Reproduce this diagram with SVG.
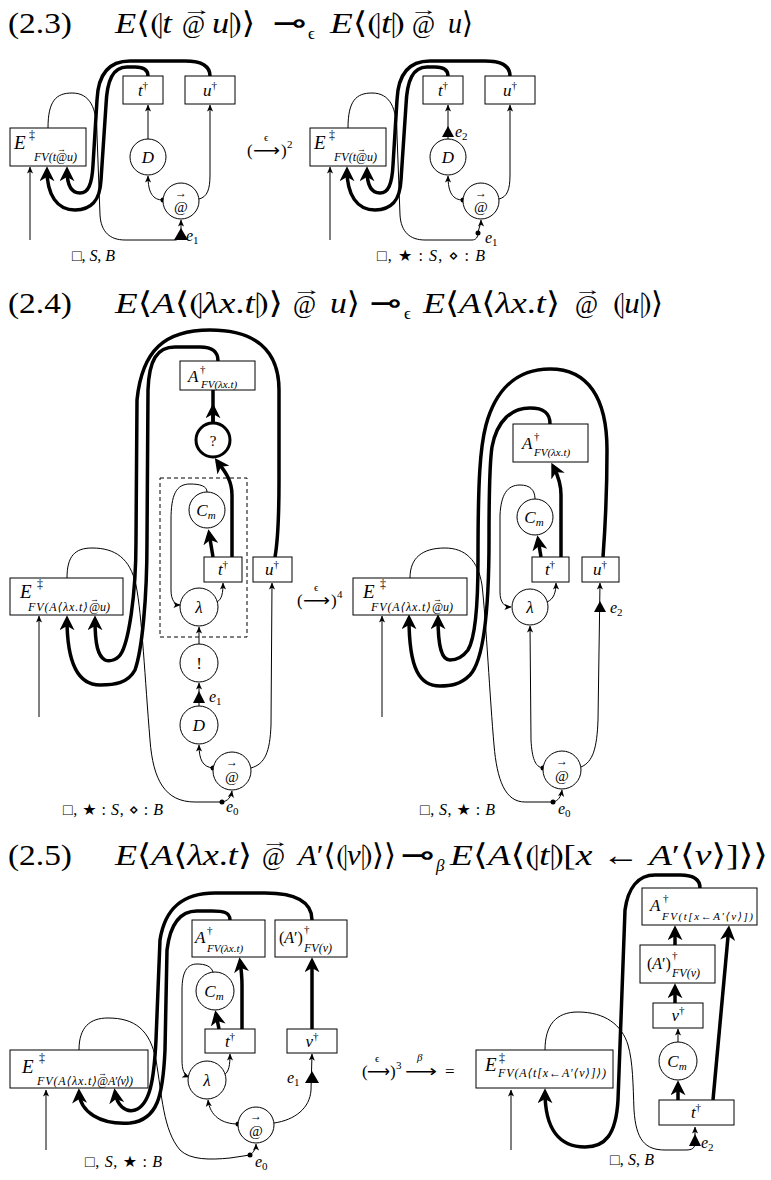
<svg xmlns="http://www.w3.org/2000/svg" width="771" height="1180" viewBox="0 0 771 1180">
<style>
text{font-family:"Liberation Serif","DejaVu Serif","DejaVu Sans",serif;fill:#000}
.i{font-style:italic}
.n{font-style:normal}
.bx{fill:#fff;stroke:#000;stroke-width:1}
.cr{fill:#fff;stroke:#000;stroke-width:1}
.cq{fill:#fff;stroke:#000;stroke-width:3}
.dash{fill:none;stroke:#000;stroke-width:1;stroke-dasharray:4 3}
.tn{fill:none;stroke:#000;stroke-width:1}
.tk{fill:none;stroke:#000;stroke-width:3.5}
.ah{marker-end:url(#ah)}
.AH{marker-end:url(#AH)}
.nl{font-size:17px;font-style:italic;text-anchor:middle}
.sp{font-size:11px;font-style:normal}
.sb{font-size:11px;font-style:italic}
.lab{font-size:16px}
.tt{font-size:30px}
.tr{font-size:17px}
.ar{text-anchor:middle}
.dj{font-family:"DejaVu Sans",sans-serif}
</style>
<defs>
<marker id="ah" viewBox="0 0 8 8" refX="7.5" refY="4" markerWidth="7" markerHeight="7" orient="auto" markerUnits="userSpaceOnUse"><path d="M0,0.5 L8,4 L0,7.5 L2,4 z"/></marker>
<marker id="AH" viewBox="0 0 16 16" refX="12" refY="8" markerWidth="15" markerHeight="15" orient="auto" markerUnits="userSpaceOnUse"><path d="M0,0 L16,8 L0,16 L4.5,8 z"/></marker>
</defs>

<!-- ===== Titles ===== -->
<g id="title-2-3" class="tt">
<text x="8" y="33" textLength="64" lengthAdjust="spacingAndGlyphs">(2.3)</text>
<text x="115" y="33" textLength="57" lengthAdjust="spacingAndGlyphs"><tspan class="i">E</tspan>⟨⦇<tspan class="i">t</tspan></text>
<text x="182" y="33" font-size="25">@<tspan x="182" y="15" font-size="16" textLength="30" lengthAdjust="spacingAndGlyphs">→</tspan></text>
<text x="212" y="33" textLength="43" lengthAdjust="spacingAndGlyphs"><tspan class="i">u</tspan>⦈⟩</text>
<text x="273" y="33" class="dj" textLength="34" lengthAdjust="spacingAndGlyphs">⊸</text>
<text x="308" y="39" font-size="17">ϵ</text>
<text x="330" y="33" textLength="75" lengthAdjust="spacingAndGlyphs"><tspan class="i">E</tspan>⟨⦇<tspan class="i">t</tspan>⦈</text>
<text x="412" y="33" font-size="25">@<tspan x="410" y="15" font-size="16" textLength="28" lengthAdjust="spacingAndGlyphs">→</tspan></text>
<text x="448" y="33" textLength="25" lengthAdjust="spacingAndGlyphs"><tspan class="i">u</tspan>⟩</text>
</g>
<g id="title-2-4" class="tt">
<text x="8" y="313" textLength="64" lengthAdjust="spacingAndGlyphs">(2.4)</text>
<text x="115" y="313" textLength="168" lengthAdjust="spacingAndGlyphs"><tspan class="i">E</tspan>⟨<tspan class="i">A</tspan>⟨⦇<tspan class="i">λx</tspan>.<tspan class="i">t</tspan>⦈⟩</text>
<text x="293" y="313" font-size="25">@<tspan x="292" y="295" font-size="16" textLength="30" lengthAdjust="spacingAndGlyphs">→</tspan></text>
<text x="330" y="313" textLength="30" lengthAdjust="spacingAndGlyphs"><tspan class="i">u</tspan>⟩</text>
<text x="370" y="313" class="dj" textLength="32" lengthAdjust="spacingAndGlyphs">⊸</text>
<text x="404" y="319" font-size="17">ϵ</text>
<text x="423" y="313" textLength="137" lengthAdjust="spacingAndGlyphs"><tspan class="i">E</tspan>⟨<tspan class="i">A</tspan>⟨<tspan class="i">λx</tspan>.<tspan class="i">t</tspan>⟩</text>
<text x="575" y="313" font-size="25">@<tspan x="574" y="295" font-size="16" textLength="28" lengthAdjust="spacingAndGlyphs">→</tspan></text>
<text x="613" y="313" textLength="50" lengthAdjust="spacingAndGlyphs">⦇<tspan class="i">u</tspan>⦈⟩</text>
</g>
<g id="title-2-5" class="tt">
<text x="8" y="865" textLength="64" lengthAdjust="spacingAndGlyphs">(2.5)</text>
<text x="115" y="865" textLength="137" lengthAdjust="spacingAndGlyphs"><tspan class="i">E</tspan>⟨<tspan class="i">A</tspan>⟨<tspan class="i">λx</tspan>.<tspan class="i">t</tspan>⟩</text>
<text x="262" y="865" font-size="25">@<tspan x="261" y="847" font-size="16" textLength="29" lengthAdjust="spacingAndGlyphs">→</tspan></text>
<text x="298" y="865" textLength="98" lengthAdjust="spacingAndGlyphs"><tspan class="i">A</tspan>′⟨⦇<tspan class="i">v</tspan>⦈⟩⟩</text>
<text x="401" y="865" class="dj" textLength="34" lengthAdjust="spacingAndGlyphs">⊸</text>
<text x="436" y="871" font-size="17" class="i">β</text>
<text x="450" y="865" textLength="318" lengthAdjust="spacingAndGlyphs"><tspan class="i">E</tspan>⟨<tspan class="i">A</tspan>⟨⦇<tspan class="i">t</tspan>⦈[<tspan class="i">x</tspan> ← <tspan class="i">A</tspan>′⟨<tspan class="i">v</tspan>⟩]⟩⟩</text>
</g>

<!-- ===== 2.3 left ===== -->
<g id="d23L-edges">
<path class="tn ah" d="M30,240 L30,167"/>
<path class="tn ah" d="M148,139 L148,105"/>
<path class="tn ah" d="M163,200 C153,200 148,193 148,176"/>
<path class="tn ah" d="M199,199 C207,197 210,190 210,175 L210,105"/>
<path class="tn ah" d="M48,128 C48,101 56,93 72,93 C90,93 97,108 97,135 L100,215 C101,232 110,240 125,240 L175,240 C179,240 181,236 181,228 L181,220"/>
<path class="tk AH" d="M210,76 C210,65 200,61 185,61 L130,61 C108,61 98,75 97,100 L93,165 C92,185 88,193 80,193 C71,193 67,185 67,170"/>
<path class="tk AH" d="M148,76 C148,69 143,67 135,67 L127,67 C113,67 107,80 106,105 L101,180 C100,200 92,210 75,210 C57,210 47,195 47,170"/>
<polygon points="174,240 181,228 188,240"/>
<circle cx="163" cy="200" r="2.5"/>
</g>
<g id="d23L-E"><rect class="bx" x="10" y="128" width="76" height="38"/>
<text x="14" y="149" class="i" font-size="19">E<tspan class="n" x="29" y="139" font-size="12">‡</tspan><tspan x="34" y="161" font-size="12">FV(t@u)</tspan><tspan class="n" x="57" y="152" font-size="9">→</tspan></text></g>
<g id="d23L-t"><rect class="bx" x="123" y="76" width="40" height="28"/><text x="143" y="96" class="nl">t<tspan class="sp" dy="-7">†</tspan></text></g>
<g id="d23L-u"><rect class="bx" x="185" y="76" width="50" height="28"/><text x="210" y="96" class="nl">u<tspan class="sp" dy="-7">†</tspan></text></g>
<g id="d23L-D"><circle class="cr" cx="148" cy="157" r="18"/><text x="148" y="163" class="nl" font-size="18">D</text></g>
<g id="d23L-app"><circle class="cr" cx="181" cy="201" r="18"/><text x="181" y="212" font-size="15" class="ar">@<tspan x="181" y="197" font-size="12">→</tspan></text></g>
<g id="d23L-labels">
<text x="186" y="241" class="i" font-size="16">e<tspan font-size="11" font-style="normal" dy="3">1</tspan></text>
<text x="72" y="261" class="lab" textLength="43">□, <tspan class="i">S</tspan>, <tspan class="i">B</tspan></text>
</g>

<!-- transition 2.3 -->
<g id="tr23">
<text x="247" y="156" class="tr">(<tspan class="dj" x="253" textLength="27" lengthAdjust="spacingAndGlyphs">⟶</tspan><tspan x="281">)</tspan><tspan x="287" y="148" font-size="11">2</tspan><tspan x="264" y="141" font-size="11">ϵ</tspan></text>
</g>

<!-- ===== 2.3 right ===== -->
<g id="d23R" transform="translate(300,0)">
<g id="d23R-edges">
<path class="tn ah" d="M30,240 L30,167"/>
<path class="tn ah" d="M148,139 L148,105"/>
<polygon points="142,137 148,126 154,137"/>
<path class="tn ah" d="M163,200 C153,200 148,193 148,176"/>
<path class="tn ah" d="M199,199 C207,197 210,190 210,175 L210,105"/>
<path class="tn" d="M48,128 C48,101 56,93 72,93 C90,93 97,108 97,135 L100,215 C101,232 110,240 125,240 L172,240 C176,240 178,237 178,233"/>
<path class="tn ah" d="M178,233 C179,227 181,224 181,220"/>
<path class="tk AH" d="M210,76 C210,65 200,61 185,61 L130,61 C108,61 98,75 97,100 L93,165 C92,185 88,193 80,193 C71,193 67,185 67,170"/>
<path class="tk AH" d="M148,76 C148,69 143,67 135,67 L127,67 C113,67 107,80 106,105 L101,180 C100,200 92,210 75,210 C57,210 47,195 47,170"/>
<circle cx="163" cy="200" r="2.5"/>
<circle cx="178" cy="233" r="2.5"/>
</g>
<g id="d23R-E"><rect class="bx" x="10" y="128" width="76" height="38"/>
<text x="14" y="149" class="i" font-size="19">E<tspan class="n" x="29" y="139" font-size="12">‡</tspan><tspan x="34" y="161" font-size="12">FV(t@u)</tspan><tspan class="n" x="57" y="152" font-size="9">→</tspan></text></g>
<g id="d23R-t"><rect class="bx" x="123" y="76" width="40" height="28"/><text x="143" y="96" class="nl">t<tspan class="sp" dy="-7">†</tspan></text></g>
<g id="d23R-u"><rect class="bx" x="185" y="76" width="50" height="28"/><text x="210" y="96" class="nl">u<tspan class="sp" dy="-7">†</tspan></text></g>
<g id="d23R-D"><circle class="cr" cx="148" cy="157" r="18"/><text x="148" y="163" class="nl" font-size="18">D</text></g>
<g id="d23R-app"><circle class="cr" cx="181" cy="201" r="18"/><text x="181" y="212" font-size="15" class="ar">@<tspan x="181" y="197" font-size="12">→</tspan></text></g>
<g id="d23R-labels">
<text x="155" y="137" class="i" font-size="16">e<tspan font-size="11" font-style="normal" dy="3">2</tspan></text>
<text x="185" y="243" class="i" font-size="16">e<tspan font-size="11" font-style="normal" dy="3">1</tspan></text>
<text x="77" y="261" class="lab" textLength="108">□, <tspan class="dj">★</tspan> : <tspan class="i">S</tspan>, <tspan class="dj">⋄</tspan> : <tspan class="i">B</tspan></text>
</g>
</g>

<!-- ===== 2.4 left ===== -->
<g id="d24L-edges">
<path class="tn ah" d="M39,717 L39,616"/>
<path class="tn ah" d="M67,578 C67,556 75,548 92,548 C115,548 130,558 136,585 C142,615 145,680 150,740 C153,780 165,802 195,802 L222,802 C228,801 231,797 232,791"/>
<circle cx="222" cy="802" r="2.5"/>
<path class="tn ah" d="M199,706 L199,683"/>
<polygon points="193,703 199,691 205,703"/>
<path class="tn ah" d="M199,644 L199,627"/>
<path class="tn ah" d="M217,602 C222,599 223,593 223,583"/>
<path class="tn ah" d="M207,492 C207,486 200,484 190,484 C176,484 171,495 171,520 L171,590 C171,600 175,605 180,605"/>
<path class="tk AH" d="M213,557 L209,533"/>
<path class="tk AH" d="M232,557 L232,495 C232,478 222,468 217,461"/>
<path class="tk" d="M213,423 L213,390"/>
<path class="tk AH" d="M213,423 L213,407"/>
<circle cx="213" cy="768" r="2.5"/>
<path class="tn ah" d="M213,768 C203,767 199,760 199,745"/>
<path class="tn ah" d="M251,768 C265,764 270,752 271,725 L272,583"/>
<path class="tk AH" d="M275,557 C278,540 279,520 279,480 L279,390 C279,350 255,330 210,330 C165,330 142,350 137,400 L136,540 C136,600 128,640 122,652 C118,660 110,662 105,660 C98,656 95,645 95,619"/>
<path class="tk AH" d="M218,361 C218,351 212,347 200,347 L175,347 C157,347 149,360 148,390 L147,540 C147,600 142,650 135,670 C128,683 115,685 100,685 C80,685 67,668 67,619"/>
</g>
<rect id="d24L-box" class="dash" x="160" y="478" width="87" height="159"/>
<g id="d24L-A"><rect class="bx" x="180" y="361" width="75" height="29"/><text x="188" y="382" class="i" font-size="17">A<tspan class="n" x="200" y="373" font-size="11">†</tspan><tspan x="201" y="388" font-size="11">FV(λx.t)</tspan></text></g>
<g id="d24L-q"><circle class="cq" cx="213" cy="440" r="17"/><text x="213" y="446" font-size="15" class="ar">?</text></g>
<g id="d24L-Cm"><circle class="cr" cx="207" cy="510" r="18"/><text x="206" y="516" class="nl">C<tspan class="sb" dy="3">m</tspan></text></g>
<g id="d24L-t"><rect class="bx" x="204" y="557" width="38" height="25"/><text x="223" y="575" class="nl" font-size="16">t<tspan class="sp" dy="-7">†</tspan></text></g>
<g id="d24L-u"><rect class="bx" x="253" y="557" width="39" height="25"/><text x="272" y="575" class="nl" font-size="16">u<tspan class="sp" dy="-7">†</tspan></text></g>
<g id="d24L-lam"><circle class="cr" cx="199" cy="607" r="19"/><text x="199" y="613" class="nl">λ</text></g>
<g id="d24L-bang"><circle class="cr" cx="199" cy="663" r="19"/><text x="199" y="669" font-size="17" class="ar">!</text></g>
<g id="d24L-D"><circle class="cr" cx="199" cy="725" r="19"/><text x="199" y="731" class="nl" font-size="18">D</text></g>
<g id="d24L-app"><circle class="cr" cx="232" cy="771" r="19"/><text x="232" y="782" font-size="15" class="ar">@<tspan x="232" y="766" font-size="12">→</tspan></text></g>
<g id="d24L-E"><rect class="bx" x="10" y="578" width="113" height="37"/>
<text x="20" y="598" class="i" font-size="19">E<tspan class="n" x="37" y="588" font-size="12">‡</tspan><tspan x="28" y="611" font-size="12" textLength="60">FV(A⟨λx.t⟩</tspan><tspan x="89" y="611" font-size="12">@u)</tspan><tspan class="n" x="90" y="602" font-size="9">→</tspan></text></g>
<g id="d24L-labels">
<text x="209" y="702" class="i" font-size="16">e<tspan font-size="11" font-style="normal" dy="3">1</tspan></text>
<text x="226" y="812" class="i" font-size="16">e<tspan font-size="11" font-style="normal" dy="3">0</tspan></text>
<text x="63" y="815" class="lab" textLength="100">□, <tspan class="dj">★</tspan> : <tspan class="i">S</tspan>, <tspan class="dj">⋄</tspan> : <tspan class="i">B</tspan></text>
</g>

<g id="tr24">
<text x="297" y="606" class="tr">(<tspan class="dj" x="303" textLength="27" lengthAdjust="spacingAndGlyphs">⟶</tspan><tspan x="331">)</tspan><tspan x="337" y="598" font-size="11">4</tspan><tspan x="314" y="591" font-size="11">ϵ</tspan></text>
</g>

<!-- ===== 2.4 right ===== -->
<g id="d24R-edges">
<path class="tn ah" d="M382,717 L382,616"/>
<path class="tn ah" d="M410,578 C410,558 422,548 445,548 C465,548 478,560 482,585 C486,620 490,700 494,745 C497,780 505,802 525,802 L553,802 C558,801 561,797 562,790"/>
<circle cx="553" cy="802" r="2.5"/>
<path class="tn ah" d="M535,499 C535,490 530,485 520,485 C507,485 501,495 500,515 L500,592 C500,602 504,607 511,607"/>
<path class="tn ah" d="M547,602 C554,599 556,592 556,583"/>
<path class="tk AH" d="M541,557 L538,539"/>
<path class="tk AH" d="M561,557 L561,495 C561,480 556,472 553,466"/>
<circle cx="543" cy="768" r="2.5"/>
<path class="tn ah" d="M543,768 C535,767 532,758 531,740 L530,626"/>
<path class="tn ah" d="M581,767 C593,762 597,748 598,720 L600,583"/>
<polygon points="594,612 600,601 606,612"/>
<path class="tk AH" d="M603,557 C605,530 607,500 607,450 C607,398 588,369 550,369 C515,369 495,392 486,425 C480,448 478,480 478,560 C478,610 474,640 468,650 C462,658 455,660 450,660 C442,660 438,648 438,618"/>
<path class="tk AH" d="M550,424 C550,413 544,408 530,408 C512,408 497,420 492,447 C490,460 489,480 489,540 C489,610 484,660 470,675 C460,685 450,686 440,686 C420,686 409,670 409,618"/>
</g>
<g id="d24R-A"><rect class="bx" x="513" y="424" width="75" height="38"/><text x="522" y="449" class="i" font-size="17">A<tspan class="n" x="534" y="440" font-size="11">†</tspan><tspan x="534" y="456" font-size="11">FV(λx.t)</tspan></text></g>
<g id="d24R-Cm"><circle class="cr" cx="535" cy="517" r="18"/><text x="534" y="523" class="nl">C<tspan class="sb" dy="3">m</tspan></text></g>
<g id="d24R-t"><rect class="bx" x="532" y="557" width="37" height="25"/><text x="550" y="575" class="nl" font-size="16">t<tspan class="sp" dy="-7">†</tspan></text></g>
<g id="d24R-u"><rect class="bx" x="582" y="557" width="37" height="25"/><text x="600" y="575" class="nl" font-size="16">u<tspan class="sp" dy="-7">†</tspan></text></g>
<g id="d24R-lam"><circle class="cr" cx="530" cy="607" r="18"/><text x="530" y="613" class="nl">λ</text></g>
<g id="d24R-app"><circle class="cr" cx="562" cy="770" r="19"/><text x="562" y="781" font-size="15" class="ar">@<tspan x="562" y="765" font-size="12">→</tspan></text></g>
<g id="d24R-E"><rect class="bx" x="353" y="578" width="114" height="37"/>
<text x="363" y="598" class="i" font-size="19">E<tspan class="n" x="380" y="588" font-size="12">‡</tspan><tspan x="371" y="611" font-size="12" textLength="60">FV(A⟨λx.t⟩</tspan><tspan x="432" y="611" font-size="12">@u)</tspan><tspan class="n" x="433" y="602" font-size="9">→</tspan></text></g>
<g id="d24R-labels">
<text x="610" y="613" class="i" font-size="16">e<tspan font-size="11" font-style="normal" dy="3">2</tspan></text>
<text x="558" y="814" class="i" font-size="16">e<tspan font-size="11" font-style="normal" dy="3">0</tspan></text>
<text x="420" y="815" class="lab" textLength="75">□, <tspan class="i">S</tspan>, <tspan class="dj">★</tspan> : <tspan class="i">B</tspan></text>
</g>

<!-- ===== 2.5 left ===== -->
<g id="d25L-edges">
<path class="tn ah" d="M46,1150 L46,1090"/>
<path class="tn ah" d="M79,1050 C79,1027 90,1018 108,1018 C135,1018 150,1030 156,1060 C162,1095 163,1130 180,1150 C190,1160 210,1160 230,1158 L250,1155 C254,1152 256,1148 256,1144"/>
<circle cx="250" cy="1155" r="2.5"/>
<path class="tn ah" d="M213,972 C211,966 205,964 197,964 C187,964 182,972 182,990 L182,1060 C182,1070 184,1075 189,1077"/>
<path class="tn ah" d="M224,1075 C229,1072 230,1065 230,1054"/>
<path class="tk AH" d="M219,1029 L216,1014"/>
<path class="tk AH" d="M242,1029 L242,985 C242,975 241,968 240,961"/>
<path class="tk AH" d="M312,1029 L312,961"/>
<circle cx="238" cy="1124" r="2.5"/>
<path class="tn ah" d="M238,1124 C222,1124 210,1116 208,1100"/>
<path class="tn ah" d="M274,1123 C295,1120 310,1108 311,1090 L312,1054"/>
<polygon points="305,1083 312,1071 319,1083"/>
<path class="tk AH" d="M312,920 C312,902 297,893 265,893 L215,893 C183,893 165,908 160,940 L156,1040 C154,1080 150,1105 135,1110 C125,1113 117,1105 115,1092"/>
<path class="tk AH" d="M230,920 C230,912 223,911 212,911 L197,911 C180,911 170,925 167,950 L165,1050 C163,1095 158,1120 130,1123 C100,1125 80,1112 79,1092"/>
</g>
<g id="d25L-A"><rect class="bx" x="192" y="920" width="73" height="37"/><text x="195" y="943" class="i" font-size="17">A<tspan class="n" x="207" y="934" font-size="11">†</tspan><tspan x="207" y="952" font-size="11">FV(λx.t)</tspan></text></g>
<g id="d25L-Ap"><rect class="bx" x="275" y="920" width="72" height="37"/><text x="279" y="943" font-size="16">(<tspan class="i">A</tspan>′)<tspan x="304" y="933" font-size="11">†</tspan><tspan class="i" x="304" y="952" font-size="12">FV(v)</tspan></text></g>
<g id="d25L-Cm"><circle class="cr" cx="215" cy="991" r="19"/><text x="214" y="997" class="nl">C<tspan class="sb" dy="3">m</tspan></text></g>
<g id="d25L-t"><rect class="bx" x="205" y="1029" width="50" height="24"/><text x="230" y="1047" class="nl" font-size="16">t<tspan class="sp" dy="-7">†</tspan></text></g>
<g id="d25L-v"><rect class="bx" x="287" y="1029" width="50" height="24"/><text x="312" y="1047" class="nl" font-size="16">v<tspan class="sp" dy="-7">†</tspan></text></g>
<g id="d25L-lam"><circle class="cr" cx="207" cy="1080" r="19"/><text x="207" y="1086" class="nl">λ</text></g>
<g id="d25L-app"><circle class="cr" cx="256" cy="1125" r="18"/><text x="256" y="1136" font-size="15" class="ar">@<tspan x="256" y="1120" font-size="12">→</tspan></text></g>
<g id="d25L-E"><rect class="bx" x="10" y="1050" width="138" height="38"/>
<text x="22" y="1073" class="i" font-size="19">E<tspan class="n" x="39" y="1062" font-size="12">‡</tspan><tspan x="37" y="1085" font-size="12" textLength="60">FV(A⟨λx.t⟩</tspan><tspan x="97" y="1085" font-size="12">@</tspan><tspan x="108" y="1085" font-size="12" textLength="25">A′⟨v⟩)</tspan><tspan class="n" x="98" y="1076" font-size="9">→</tspan></text></g>
<g id="d25L-labels">
<text x="287" y="1083" class="i" font-size="16">e<tspan font-size="11" font-style="normal" dy="3">1</tspan></text>
<text x="255" y="1167" class="i" font-size="16">e<tspan font-size="11" font-style="normal" dy="3">0</tspan></text>
<text x="85" y="1167" class="lab" textLength="77">□, <tspan class="i">S</tspan>, <tspan class="dj">★</tspan> : <tspan class="i">B</tspan></text>
</g>

<g id="tr25">
<text x="362" y="1077" class="tr">(<tspan class="dj" x="367" textLength="23" lengthAdjust="spacingAndGlyphs">⟶</tspan><tspan x="390">)</tspan><tspan x="396" y="1069" font-size="11">3</tspan><tspan class="dj" x="405" y="1077" textLength="32" lengthAdjust="spacingAndGlyphs">⟶</tspan><tspan x="445">=</tspan><tspan x="375" y="1062" font-size="11">ϵ</tspan><tspan class="i" x="417" y="1061" font-size="11">β</tspan></text>
</g>

<!-- ===== 2.5 right ===== -->
<g id="d25R-edges">
<path class="tn ah" d="M511,1150 L511,1090"/>
<path class="tn ah" d="M545,1050 C545,1025 556,1012 578,1012 C605,1012 622,1025 628,1045 C633,1062 633,1085 634,1110 C636,1140 645,1150 665,1150 L686,1150 C692,1150 695,1148 695,1143 L695,1127"/>
<polygon points="689,1146 695,1134 701,1146"/>
<path class="tn ah" d="M678,1042 L678,1029"/>
<path class="tk AH" d="M678,1100 L678,1084"/>
<path class="tk AH" d="M675,1003 L675,987"/>
<path class="tk AH" d="M675,945 L675,929"/>
<path class="tk AH" d="M713,1100 L728.7,929"/>
<path class="tk AH" d="M700,888 C700,878 692,875 680,875 L655,875 C638,875 628,888 625,910 L618,1100 C616,1135 605,1147 585,1147 C560,1147 545,1130 545,1092"/>
</g>
<g id="d25R-A"><rect class="bx" x="642" y="888" width="115" height="37"/><text x="650" y="911" class="i" font-size="17">A<tspan class="n" x="663" y="902" font-size="11">†</tspan><tspan x="662" y="920" font-size="11" textLength="91">FV(t[x←A′⟨v⟩])</tspan></text></g>
<g id="d25R-Ap"><rect class="bx" x="640" y="945" width="75" height="38"/><text x="647" y="969" font-size="16">(<tspan class="i">A</tspan>′)<tspan x="672" y="959" font-size="11">†</tspan><tspan class="i" x="672" y="977" font-size="12">FV(v)</tspan></text></g>
<g id="d25R-v"><rect class="bx" x="653" y="1003" width="50" height="25"/><text x="678" y="1021" class="nl" font-size="16">v<tspan class="sp" dy="-7">†</tspan></text></g>
<g id="d25R-Cm"><circle class="cr" cx="678" cy="1061" r="19"/><text x="677" y="1067" class="nl">C<tspan class="sb" dy="3">m</tspan></text></g>
<g id="d25R-t"><rect class="bx" x="659" y="1100" width="75" height="25"/><text x="696" y="1118" class="nl" font-size="16">t<tspan class="sp" dy="-7">†</tspan></text></g>
<g id="d25R-E"><rect class="bx" x="476" y="1050" width="137" height="38"/>
<text x="485" y="1071" class="i" font-size="19">E<tspan class="n" x="499" y="1062" font-size="12">‡</tspan><tspan x="498" y="1077" font-size="12" textLength="108">FV(A⟨t[x←A′⟨v⟩]⟩)</tspan></text></g>
<g id="d25R-labels">
<text x="701" y="1148" class="i" font-size="16">e<tspan font-size="11" font-style="normal" dy="3">2</tspan></text>
<text x="610" y="1165" class="lab" textLength="44">□, <tspan class="i">S</tspan>, <tspan class="i">B</tspan></text>
</g>
</svg>
